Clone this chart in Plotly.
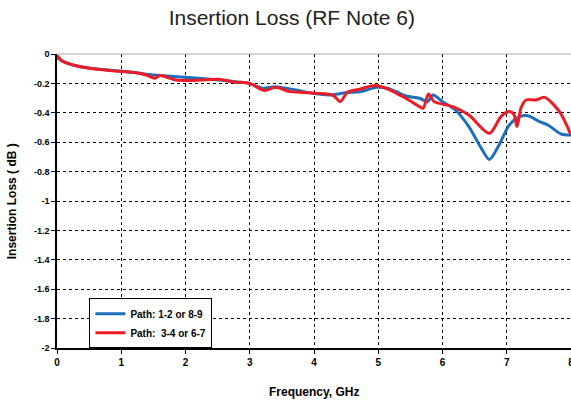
import plotly.graph_objects as go

# Path 1-2 or 8-9 (blue)
blue_f = [0.0, 0.02, 0.09, 0.25, 0.5, 0.97, 1.23, 1.5, 2.0, 2.52, 2.8, 2.99, 3.2, 3.4, 3.72, 3.98, 4.24, 4.5,
          4.73, 4.97, 5.15, 5.28, 5.43, 5.64, 5.77, 5.85, 6.0, 6.2, 6.41, 6.59, 6.73, 6.88, 7.04, 7.2,
          7.33, 7.51, 7.64, 7.85, 8.0]
blue_v = [-0.02, -0.03, -0.05, -0.075, -0.095, -0.116, -0.128, -0.143, -0.159, -0.177, -0.19, -0.2, -0.233,
          -0.222, -0.245, -0.267, -0.279, -0.263, -0.256, -0.227, -0.234, -0.256, -0.286, -0.301, -0.324,
          -0.279, -0.324, -0.381, -0.494, -0.631, -0.717, -0.619, -0.483, -0.426, -0.42, -0.46, -0.483,
          -0.545, -0.551]

# Path 3-4 or 6-7 (red)
red_f = [0.0, 0.02, 0.09, 0.25, 0.5, 0.97, 1.23, 1.39, 1.52, 1.6, 1.85, 2.07, 2.52, 2.74, 3.0, 3.23, 3.4, 3.62,
         3.77, 4.03, 4.29, 4.41, 4.52, 4.71, 4.94, 5.12, 5.28, 5.43, 5.64, 5.70, 5.78, 5.87, 6.16, 6.41,
         6.73, 6.91, 7.04, 7.11, 7.16, 7.22, 7.3, 7.45, 7.59, 7.82, 8.0]
red_v = [-0.01, -0.02, -0.05, -0.075, -0.097, -0.118, -0.127, -0.143, -0.165, -0.147, -0.177, -0.18, -0.172,
         -0.19, -0.2, -0.249, -0.227, -0.256, -0.26, -0.267, -0.279, -0.324, -0.26, -0.24, -0.215, -0.233,
         -0.267, -0.301, -0.358, -0.369, -0.272, -0.324, -0.358, -0.415, -0.54, -0.426, -0.392, -0.41,
         -0.494, -0.369, -0.313, -0.313, -0.295, -0.392, -0.551]

x_ticks = [0, 1, 2, 3, 4, 5, 6, 7, 8]
x_labels = ["0", "1", "2", "3", "4", "5", "6", "7", "8"]
y_ticks = [0, -0.2, -0.4, -0.6, -0.8, -1, -1.2, -1.4, -1.6, -1.8, -2]
y_labels = ["0", "-0.2", "-0.4", "-0.6", "-0.8", "-1", "-1.2", "-1.4", "-1.6", "-1.8", "-2"]

FONT = "Liberation Sans, Arial, sans-serif"

fig = go.Figure()
fig.add_trace(go.Scatter(x=blue_f, y=blue_v, mode="lines", name="<b>Path: 1-2 or 8-9</b>",
                         line=dict(color="#1E6EBE", width=3, shape="spline", smoothing=0.8)))
fig.add_trace(go.Scatter(x=red_f, y=red_v, mode="lines", name="<b>Path:  3-4 or 6-7</b>",
                         line=dict(color="#EC1C26", width=3, shape="spline", smoothing=0.8)))

fig.update_layout(
    width=571, height=400,
    margin=dict(l=57, r=0, t=54, b=52, autoexpand=False),
    paper_bgcolor="white", plot_bgcolor="white",
    font=dict(family=FONT, color="black"),
    title=dict(text="Insertion Loss (RF Note 6)", x=0.511, xref="container", xanchor="center",
               y=0.955, yref="container", yanchor="middle",
               font=dict(size=21, color="#222222", family=FONT)),
    showlegend=True,
    legend=dict(x=0.063, y=0.169, xanchor="left", yanchor="top",
                bgcolor="white", bordercolor="black", borderwidth=1,
                font=dict(size=10, color="black", family=FONT),
                itemwidth=30, tracegroupgap=0),
    xaxis=dict(range=[0, 8], tickvals=x_ticks, ticktext=[f"<b>{t}</b>" for t in x_labels],
               showgrid=True, gridcolor="black", griddash="dot", gridwidth=1,
               showline=True, linecolor="black", linewidth=1.5, mirror=False,
               ticks="outside", ticklen=4, tickcolor="black",
               tickfont=dict(size=10, family=FONT), ticklabeloverflow="allow",
               automargin=False, zeroline=False),
    yaxis=dict(range=[-2, 0], tickvals=y_ticks, ticktext=[f"<b>{t}</b>" for t in y_labels],
               showgrid=True, gridcolor="black", griddash="dot", gridwidth=1,
               showline=True, linecolor="black", linewidth=1.5,
               ticks="outside", ticklen=4, tickcolor="black",
               tickfont=dict(size=9, family=FONT), ticklabeloverflow="allow",
               automargin=False, zeroline=False),
    annotations=[
        dict(text="<b>Frequency, GHz</b>", xref="paper", yref="paper", x=0.5, y=-0.15,
             xanchor="center", yanchor="middle", showarrow=False, font=dict(size=12, family=FONT)),
        dict(text="<b>Insertion Loss ( dB )</b>", xref="paper", yref="paper", x=-0.087, y=0.5,
             xanchor="center", yanchor="middle", showarrow=False, textangle=-90,
             font=dict(size=12, family=FONT)),
    ],
)
# top border line (gray)
fig.add_shape(type="line", xref="paper", yref="paper", x0=0, x1=1, y0=1, y1=1,
              line=dict(color="#AAAAAA", width=1))

fig.write_html("out.html", config={"displayModeBar": False},
               post_script="document.body.style.margin='0px';document.body.style.overflow='hidden';")
